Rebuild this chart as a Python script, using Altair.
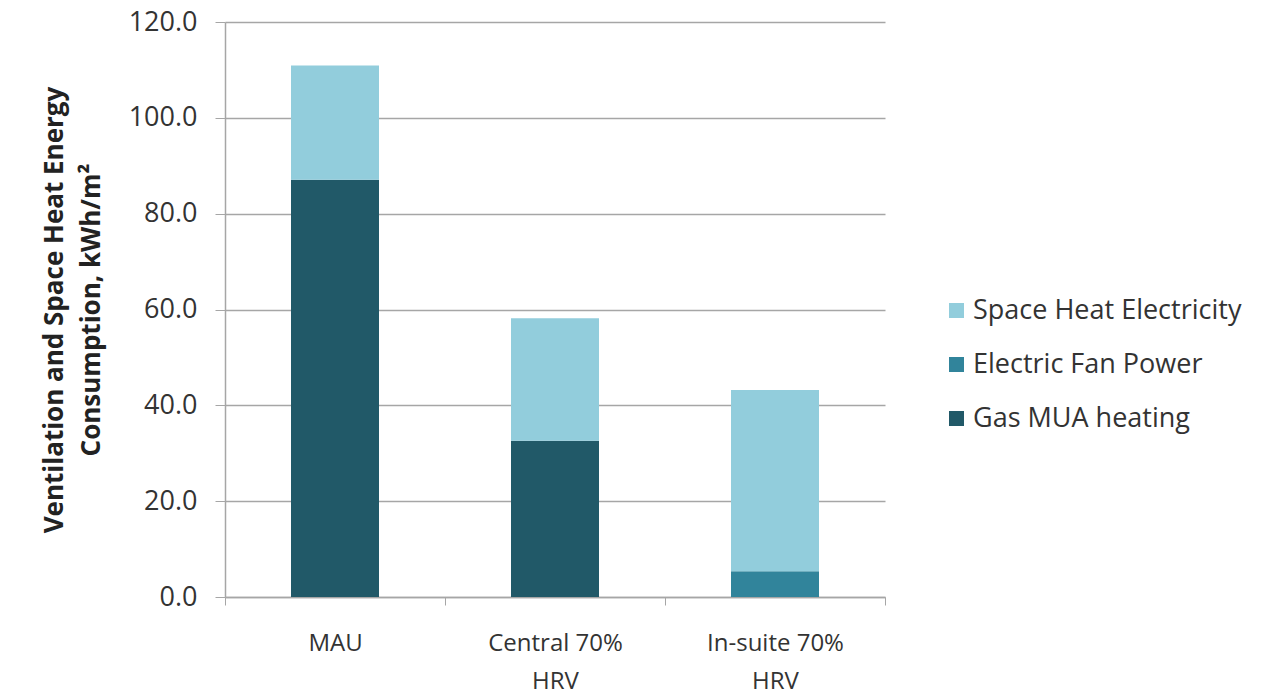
import altair as alt
import pandas as pd

categories = ["MAU", "Central 70%\nHRV", "In-suite 70%\nHRV"]
gas_mua = [87.1, 32.6, 0.0]
fan_power = [0.0, 0.0, 5.4]
space_heat = [23.8, 25.6, 37.8]

series = ["Space Heat Electricity", "Electric Fan Power", "Gas MUA heating"]
colors = ["#92CDDC", "#31849B", "#215968"]
stack_rank = {"Gas MUA heating": 0, "Electric Fan Power": 1, "Space Heat Electricity": 2}

rows = []
for i, c in enumerate(categories):
    rows.append({"cat": c, "series": "Gas MUA heating", "value": gas_mua[i]})
    rows.append({"cat": c, "series": "Electric Fan Power", "value": fan_power[i]})
    rows.append({"cat": c, "series": "Space Heat Electricity", "value": space_heat[i]})
df = pd.DataFrame(rows)
df["rank"] = df["series"].map(stack_rank)

FONT = "Open Sans"

chart = alt.Chart(df).mark_bar(width=alt.RelativeBandSize(0.4)).encode(
    x=alt.X("cat:N", sort=categories, title=None,
            scale=alt.Scale(paddingInner=0, paddingOuter=0),
            axis=alt.Axis(labelExpr="split(datum.label, '\\n')", labelAngle=0,
                          tickBand="extent", labelFontSize=24, labelFont=FONT,
                          labelColor="#333333", labelPadding=26, labelLineHeight=38,
                          labelLimit=300,
                          domainColor="#A6A6A6", tickColor="#A6A6A6", tickSize=8,
                          domainWidth=1.5, grid=False)),
    y=alt.Y("value:Q", stack="zero",
            scale=alt.Scale(domain=[0, 120], nice=False),
            axis=alt.Axis(values=[0, 20, 40, 60, 80, 100, 120], format=".1f",
                          title=["Ventilation and Space Heat Energy", "Consumption, kWh/m²"],
                          titleFont=FONT, titleFontSize=26, titleFontWeight="bold",
                          titleColor="#222222", titlePadding=24, titleLineHeight=37,
                          labelFont=FONT, labelFontSize=27, labelColor="#333333",
                          labelPadding=18, tickSize=10, tickColor="#A6A6A6",
                          domainColor="#A6A6A6", domainWidth=1.5,
                          gridColor="#A6A6A6", gridWidth=1.5)),
    color=alt.Color("series:N", sort=series,
                    scale=alt.Scale(domain=series, range=colors),
                    legend=alt.Legend(title=None, orient="none", legendX=718, legendY=275,
                                      symbolType="square", symbolSize=225,
                                      symbolStrokeWidth=0,
                                      labelFont=FONT, labelFontSize=27, labelLimit=400,
                                      labelColor="#333333", rowPadding=26,
                                      labelOffset=3)),
    order=alt.Order("rank:Q", sort="ascending"),
).properties(
    width=660, height=575,
    autosize=alt.AutoSizeParams(type="none"),
    padding={"left": 225, "top": 22, "right": 393, "bottom": 97},
).configure_view(stroke=None).configure_axis(domainCap="butt")

chart.save("out.html", embed_options={"renderer": "svg", "actions": False})
